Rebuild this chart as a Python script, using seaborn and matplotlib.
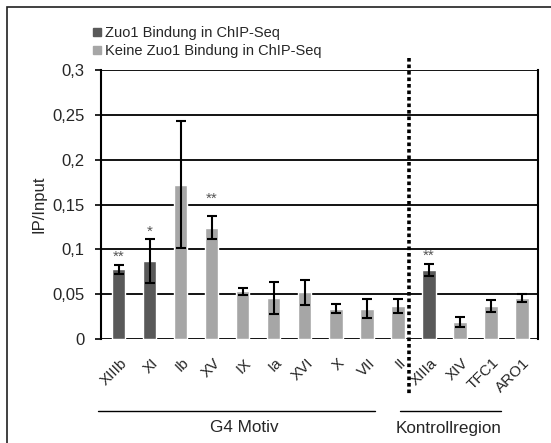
import matplotlib
matplotlib.use("Agg")
import matplotlib.pyplot as plt
import matplotlib.transforms as mtransforms
from matplotlib.lines import Line2D
from matplotlib.patches import Rectangle
import seaborn as sns
import pandas as pd

# ChIP-qPCR enrichment (IP/Input) per region
regions = ["XIIIb", "XI", "Ib", "XV", "IX", "Ia", "XVI", "X", "VII", "II",
           "XIIIa", "XIV", "TFC1", "ARO1"]
ip_input = [0.078, 0.087, 0.172, 0.124, 0.053, 0.046, 0.052, 0.034, 0.034, 0.037,
            0.077, 0.019, 0.037, 0.046]
sd = [0.005, 0.024, 0.071, 0.013, 0.004, 0.018, 0.014, 0.005, 0.011, 0.008,
      0.007, 0.006, 0.007, 0.0045]
binding = ["Zuo1 Bindung in ChIP-Seq", "Zuo1 Bindung in ChIP-Seq",
           "Keine Zuo1 Bindung in ChIP-Seq", "Keine Zuo1 Bindung in ChIP-Seq",
           "Keine Zuo1 Bindung in ChIP-Seq", "Keine Zuo1 Bindung in ChIP-Seq",
           "Keine Zuo1 Bindung in ChIP-Seq", "Keine Zuo1 Bindung in ChIP-Seq",
           "Keine Zuo1 Bindung in ChIP-Seq", "Keine Zuo1 Bindung in ChIP-Seq",
           "Zuo1 Bindung in ChIP-Seq", "Keine Zuo1 Bindung in ChIP-Seq",
           "Keine Zuo1 Bindung in ChIP-Seq", "Keine Zuo1 Bindung in ChIP-Seq"]
significance = ["**", "*", "", "**", "", "", "", "", "", "", "**", "", "", ""]
y_ticks = [0, 0.05, 0.1, 0.15, 0.2, 0.25, 0.3]
y_tick_labels = ["0", "0,05", "0,1", "0,15", "0,2", "0,25", "0,3"]
groups = ["G4 Motiv", "Kontrollregion"]

palette = {"Zuo1 Bindung in ChIP-Seq": "#595959",
           "Keine Zuo1 Bindung in ChIP-Seq": "#a6a6a6"}

sns.set_theme(style="white")
plt.rcParams["font.family"] = ["Liberation Sans", "DejaVu Sans"]

df = pd.DataFrame({"region": regions, "value": ip_input, "binding": binding})

W, H = 551, 443
fig = plt.figure(figsize=(W / 100, H / 100), dpi=100)
ax = fig.add_axes([101 / W, 1 - 339 / H, (537.5 - 101) / W, (339 - 70) / H])

# horizontal grid behind the bars
for yv in y_ticks:
    ax.axhline(yv, color="black", lw=1.3, zorder=0.5)

sns.barplot(data=df, x="region", y="value", hue="binding", palette=palette,
            dodge=False, width=0.42, errorbar=None, legend=False, ax=ax,
            saturation=1, zorder=2)

xs = list(range(len(regions)))
ax.errorbar(xs, ip_input, yerr=sd, fmt="none", ecolor="black",
            elinewidth=1.5, capsize=3.5, capthick=1.5, zorder=3)

# significance marks; the one over XV is lifted clear of the 0,15 gridline
star_lift = {3: 0.011}
for xi, v, e, s in zip(xs, ip_input, sd, significance):
    if s:
        ax.text(xi, v + e + 0.001 + star_lift.get(xi, 0), s, ha="center",
                va="bottom", fontsize=11, color="#555555", zorder=6)

ax.set_xlim(-0.58, 13.5)
ax.set_ylim(0, 0.3)
ax.set_yticks(y_ticks)
ax.set_yticklabels(y_tick_labels, fontsize=12)
ax.tick_params(axis="y", direction="out", length=4, width=1.2, color="black",
               left=True, pad=8)
ax.tick_params(axis="x", length=0, pad=12)
ax.set_xticks(xs)
ax.set_xticklabels(regions, rotation=45, ha="right", rotation_mode="anchor",
                   fontsize=11)
shift = mtransforms.ScaledTranslation(1 / 100, 0, fig.dpi_scale_trans)
for lab in ax.get_xticklabels():
    lab.set_transform(lab.get_transform() + shift)
ax.set_xlabel("")
ax.set_ylabel("IP/Input", fontsize=12, labelpad=4)

for side in ["left", "right"]:
    ax.spines[side].set_visible(True)
    ax.spines[side].set_color("black")
    ax.spines[side].set_linewidth(1.5)
ax.spines["top"].set_visible(False)
ax.spines["bottom"].set_visible(False)

# dotted separator between G4 motifs and control regions
trans = mtransforms.blended_transform_factory(ax.transData, fig.transFigure)
ax.add_line(Line2D([9.35, 9.35], [1 - 58 / H, 1 - 396 / H], transform=trans,
                   color="black", lw=2.6, linestyle=(0, (1.0, 0.8)),
                   clip_on=False, zorder=5))

# group brackets
fig.add_artist(Line2D([98 / W, 375 / W], [1 - 411 / H] * 2, color="black", lw=1))
fig.add_artist(Line2D([400 / W, 501 / W], [1 - 411 / H] * 2, color="black", lw=1))
fig.text(244 / W, 1 - 428 / H, groups[0], ha="center", va="center", fontsize=12.3)
fig.text(448.5 / W, 1 - 428 / H, groups[1], ha="center", va="center", fontsize=12.3)

# legend
handles = [Line2D([], [], marker="s", ls="none", markersize=5.5,
                  color=palette[k]) for k in palette]
fig.legend(handles, list(palette.keys()), loc="upper left",
           bbox_to_anchor=(93 / W, 1 - 26 / H), frameon=False, fontsize=10.5,
           handlelength=0.6, handletextpad=0.25, labelspacing=0.3,
           borderpad=0, borderaxespad=0)

# outer frame
fig.add_artist(Rectangle((7 / W, -0.05), 1.1, 1 - 7 / H + 0.05,
                         transform=fig.transFigure, fill=False,
                         edgecolor="#202020", lw=1.2))

fig.savefig("out.png", dpi=100)
